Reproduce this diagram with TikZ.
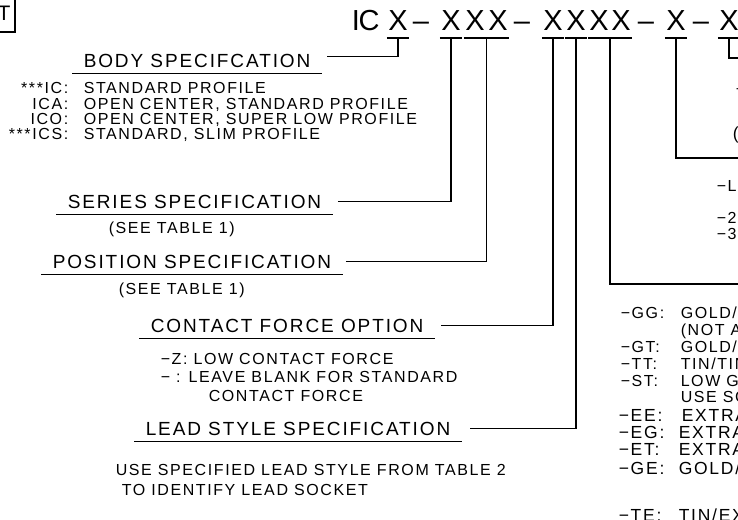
\documentclass[tikz,border=0pt]{standalone}
\usepackage{fontspec}
\setmainfont{Liberation Sans}
\newfontfamily\dwg{Liberation Sans}[LetterSpace=10]
\usetikzlibrary{calc}

\begin{document}
\begin{tikzpicture}[x=1pt,y=-1pt,line width=1.5pt,
  code/.style={font=\fontsize{29}{29}\selectfont,anchor=base,inner sep=0pt,minimum width=21pt},
  head/.style={font=\dwg\fontsize{19}{19}\selectfont,anchor=base west,
    inner xsep=11pt,inner ysep=5.5pt,text depth=0pt},
  txt/.style={font=\dwg\fontsize{16}{16}\selectfont,anchor=base west,inner sep=0pt},
  big/.style={txt,font=\dwg\fontsize{17.5}{17.5}\selectfont},
  key/.style={txt,anchor=base east}]

\useasboundingbox (0,0) rectangle (738,519);
\clip (0,0) rectangle (738,519);

% --- title block corner (top left) ---
\draw (-20,-20) rectangle (15,32);
\node[font=\dwg\fontsize{21}{21}\selectfont,anchor=base] (tagT) at (4,21) {T};

% --- part number ---
\node[code] (cI)    at (356,31) {I};
\node[code] (cC)    at (369,31) {C};
\node[code] (xBody) at (398,31) {X};
\node[code] (d1)    at (421,31) {–};
\node[code] (xSer)  at (451,31) {X};
\node[code] (xPosA) at (475,31) {X};
\node[code] (xPosB) at (498,31) {X};
\node[code] (d2)    at (522,31) {–};
\node[code] (xCf)   at (553,31) {X};
\node[code] (xLead) at (576,31) {X};
\node[code] (xPlA)  at (599,31) {X};
\node[code] (xPlB)  at (621,31) {X};
\node[code] (d3)    at (646,31) {–};
\node[code] (xOpt)  at (676,31) {X};
\node[code] (d4)    at (701,31) {–};
\node[code] (xLast) at (729,31) {X};

% underlines of the part number
\draw ([yshift=-7pt]xBody.base west) -- ([yshift=-7pt]xBody.base east);
\draw ([yshift=-7pt]xSer.base west)  -- ([yshift=-7pt]xSer.base east);
\draw ([yshift=-7pt]xPosA.base west) -- ([yshift=-7pt]xPosB.base east);
\draw ([yshift=-7pt]xCf.base west)   -- ([yshift=-7pt]xCf.base east);
\draw ([yshift=-7pt]xLead.base west) -- ([yshift=-7pt]xLead.base east);
\draw ([yshift=-7pt]xPlA.base west)  -- ([yshift=-7pt]xPlB.base east);
\draw ([yshift=-7pt]xOpt.base west)  -- ([yshift=-7pt]xOpt.base east);
\draw ([yshift=-7pt]xLast.base west) -- ([yshift=-7pt]xLast.base east);

\coordinate (uBody) at ([yshift=-7pt]xBody.base);
\coordinate (uSer)  at ([yshift=-7pt]xSer.base);
\coordinate (uPos)  at ($(xPosA.base)!.5!(xPosB.base)+(0,7)$);
\coordinate (uCf)   at ([yshift=-7pt]xCf.base);
\coordinate (uLead) at ([yshift=-7pt]xLead.base);
\coordinate (uPl)   at ($(xPlA.base)!.5!(xPlB.base)+(0,7)$);
\coordinate (uOpt)  at ([yshift=-7pt]xOpt.base);
\coordinate (uLast) at ([yshift=-7pt]xLast.base);

% --- body ---
\node[head] (body) at (72,67) {BODY SPECIFCATION};
\node[key] (kIC)  at (69,93)  {***IC:};
\node[txt] (vIC)  at (83,93)  {STANDARD PROFILE};
\node[key] (kICA) at (69,109) {ICA:};
\node[txt] (vICA) at (83,109) {OPEN CENTER, STANDARD PROFILE};
\node[key] (kICO) at (69,124) {ICO:};
\node[txt] (vICO) at (83,124) {OPEN CENTER, SUPER LOW PROFILE};
\node[key] (kICS) at (69,139) {***ICS:};
\node[txt] (vICS) at (83,139) {STANDARD, SLIM PROFILE};

% --- series / position ---
\node[head] (series) at (56,208) {SERIES SPECIFICATION};
\node[txt] (serNote) at (108,233) {(SEE TABLE 1)};
\node[head] (position) at (41,268) {POSITION SPECIFICATION};
\node[txt] (posNote) at (118,294) {(SEE TABLE 1)};

% --- contact force ---
\node[head] (force) at (139,332) {CONTACT FORCE OPTION};
\node[txt] (fZ)     at (160,364) {−Z: LOW CONTACT FORCE};
\node[txt] (fStd)   at (160,382) {− : LEAVE BLANK FOR STANDARD};
\node[txt] (fStd2)  at (208,401) {CONTACT FORCE};

% --- lead style ---
\node[head] (lead) at (134,435) {LEAD STYLE SPECIFICATION};
\node[txt] (leadNote)  at (115,475) {USE SPECIFIED LEAD STYLE FROM TABLE 2};
\node[txt] (leadNote2) at (121,495) {TO IDENTIFY LEAD SOCKET};

% --- right hand lists (cut by the sheet edge) ---
\node[txt] (oDash)  at (735,94)  {−};
\node[big] (oParen) at (732,139) {(};
\node[txt] (oL) at (716,191) {−L};
\node[txt] (o2) at (716,223) {−2};
\node[txt] (o3) at (716,239) {−3};

\node[txt] (pGG) at (620,318) {−GG:};  \node[txt] (dGG)  at (680,318) {GOLD/};
                                       \node[txt] (dGG2) at (680,335) {(NOT A};
\node[txt] (pGT) at (620,352) {−GT:};  \node[txt] (dGT)  at (680,352) {GOLD/};
\node[txt] (pTT) at (620,369) {−TT:};  \node[txt] (dTT)  at (680,369) {TIN/TIN};
\node[txt] (pST) at (620,386) {−ST:};  \node[txt] (dST)  at (680,386) {LOW G};
                                       \node[txt] (dST2) at (680,402) {USE SC};
\node[big] (pEE) at (618,421) {−EE:};  \node[big] (dEE)  at (681,421) {EXTRA};
\node[big] (pEG) at (618,438) {−EG:};  \node[big] (dEG)  at (678,438) {EXTRA};
\node[big] (pET) at (618,455) {−ET:};  \node[big] (dET)  at (678,455) {EXTRA};
\node[big] (pGE) at (618,474) {−GE:};  \node[big] (dGE)  at (678,474) {GOLD/};
\node[big] (pTE) at (618,521) {−TE:};  \node[big] (dTE)  at (678,521) {TIN/EX};

\coordinate (lastEnd) at (760,58);
\coordinate (optEnd)  at (760,158);
\coordinate (platEnd) at (760,284);

% heading underlines
\draw (body.south west) -- (body.south east);
\draw (series.south west) -- (series.south east);
\draw (position.south west) -- (position.south east);
\draw (force.south west) -- (force.south east);
\draw (lead.south west) -- (lead.south east);

% leaders
\draw ([xshift=5pt,yshift=4pt]body.east) -| (uBody);
\draw ([xshift=5pt]series.east) -| (uSer);
\draw ([xshift=3pt]position.east) -| (uPos);
\draw ([xshift=6pt]force.east) -| (uCf);
\draw ([xshift=8pt]lead.east) -| (uLead);
\draw (uPl) |- (platEnd);
\draw (uOpt) |- (optEnd);
\draw (uLast) |- (lastEnd);
\end{tikzpicture}
\end{document}
